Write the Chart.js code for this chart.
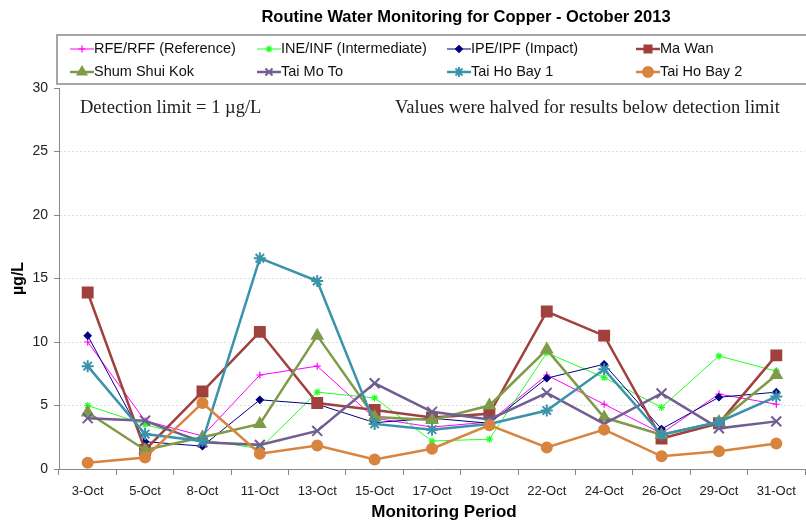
<!DOCTYPE html>
<html>
<head>
<meta charset="utf-8">
<script src="https://cdn.jsdelivr.net/npm/chart.js@4"></script>
<style>
    body { margin: 0; overflow: hidden; background: #fff; }
    #wrap { width: 806px; height: 525px; overflow: hidden; }
</style>
</head>
<body>
<div id="wrap"><canvas id="chart" width="814" height="525"></canvas></div>
<script>
//Dados
const periodos = ['3-Oct', '5-Oct', '8-Oct', '11-Oct', '13-Oct', '15-Oct', '17-Oct', '19-Oct', '22-Oct', '24-Oct', '26-Oct', '29-Oct', '31-Oct'];
const rfe = [10.0, 3.8, 2.6, 7.4, 8.1, 4.0, 3.3, 3.7, 7.4, 5.1, 2.8, 5.9, 5.1];
const ine = [5.0, 3.5, 2.3, 1.6, 6.05, 5.6, 2.2, 2.35, 9.15, 7.2, 4.85, 8.9, 7.7];
const ipe = [10.5, 2.15, 1.8, 5.45, 5.1, 3.65, 4.0, 3.6, 7.15, 8.25, 3.15, 5.65, 6.05];
const maWan = [13.9, 1.5, 6.1, 10.8, 5.2, 4.65, 4.05, 4.35, 12.4, 10.5, 2.4, 3.6, 8.95];
const shumShuiKok = [4.45, 1.5, 2.5, 3.55, 10.5, 4.1, 3.85, 5.0, 9.4, 4.05, 2.7, 3.7, 7.4];
const taiMoTo = [4.0, 3.8, 2.1, 1.9, 3.0, 6.75, 4.5, 3.9, 6.0, 3.55, 5.95, 3.2, 3.75];
const taiHoBay1 = [8.1, 2.75, 2.2, 16.6, 14.8, 3.55, 3.1, 3.55, 4.6, 7.85, 2.7, 3.7, 5.7];
const taiHoBay2 = [0.5, 0.9, 5.2, 1.2, 1.85, 0.75, 1.6, 3.45, 1.7, 3.1, 1.0, 1.4, 2.0];
const yTicks = [0, 5, 10, 15, 20, 25, 30];

const series = [
    { label: 'RFE/RFF (Reference)', data: rfe, color: '#FF00FF', width: 1, style: 'cross', r: 3.5 },
    { label: 'INE/INF (Intermediate)', data: ine, color: '#22FF22', width: 1, style: 'star', r: 3.5 },
    { label: 'IPE/IPF (Impact)', data: ipe, color: '#000080', width: 1, style: 'rectRot', r: 3.5 },
    { label: 'Ma Wan', data: maWan, color: '#A0413E', width: 2.5, style: 'rect', r: 7 },
    { label: 'Shum Shui Kok', data: shumShuiKok, color: '#7F9B48', width: 2.5, style: 'triangle', r: 6 },
    { label: 'Tai Mo To', data: taiMoTo, color: '#705D91', width: 2.5, style: 'crossRot', r: 7 },
    { label: 'Tai Ho Bay 1', data: taiHoBay1, color: '#3B93AA', width: 2.5, style: 'star', r: 6 },
    { label: 'Tai Ho Bay 2', data: taiHoBay2, color: '#D8843F', width: 2.5, style: 'circle', r: 5 }
];

//Título, legenda e textos
const extras = {
    id: 'extras',
    afterDraw(chart) {
        const ctx = chart.ctx;
        ctx.save();
        ctx.fillStyle = '#000';
        ctx.textBaseline = 'middle';
        ctx.textAlign = 'center';
        ctx.font = 'bold 16.5px "Liberation Sans", Arial';
        ctx.fillText('Routine Water Monitoring for Copper - October 2013', 466, 17);
        ctx.font = 'bold 17px "Liberation Sans", Arial';
        ctx.fillText('Monitoring Period', 444, 512);

        ctx.textAlign = 'left';
        ctx.fillStyle = '#222';
        ctx.font = '18.5px "Liberation Serif", serif';
        ctx.fillText('Detection limit = 1 \u00b5g/L', 80, 108);
        ctx.fillText('Values were halved for results below detection limit', 395, 108);

        // caixa da legenda
        ctx.strokeStyle = '#A6A6A6';
        ctx.lineWidth = 2;
        ctx.strokeRect(57, 35, 800, 49);

        const cols = [70, 257, 447, 636];
        const rows = [49, 72];
        ctx.font = '14.5px "Liberation Sans", Arial';
        chart.data.datasets.forEach((ds, i) => {
            const x = cols[i % 4];
            const y = rows[Math.floor(i / 4)];
            ctx.strokeStyle = ds.borderColor;
            ctx.fillStyle = ds.borderColor;
            ctx.lineWidth = ds.borderWidth;
            ctx.beginPath();
            ctx.moveTo(x, y);
            ctx.lineTo(x + 24, y);
            ctx.stroke();
            ctx.lineWidth = ds.pointBorderWidth;
            Chart.helpers.drawPoint(ctx, {
                pointStyle: ds.pointStyle,
                radius: Math.min(ds.pointRadius, 5),
                rotation: 0,
                borderWidth: ds.pointBorderWidth
            }, x + 12, y);
            ctx.fillStyle = '#111';
            ctx.fillText(ds.label, x + 24, y);
        });
        ctx.restore();
    }
};

const chart = document.getElementById('chart').getContext('2d');

new Chart(chart, {
    type: 'line',
    data: {
        labels: periodos,
        datasets: series.map((s, i) => ({
            label: s.label,
            data: s.data,
            borderColor: s.color,
            backgroundColor: s.color,
            borderWidth: s.width,
            pointStyle: s.style,
            pointRadius: s.r,
            pointBorderColor: s.color,
            pointBackgroundColor: s.color,
            pointBorderWidth: s.width > 1 ? 2 : 1.2,
            tension: 0,
            order: series.length - i
        }))
    },
    options: {
        responsive: false,
        animation: false,
        layout: { padding: { top: 88, right: 3.4, left: 0, bottom: 0 } },
        plugins: {
            legend: { display: false },
            tooltip: { enabled: false }
        },
        scales: {
            x: {
                offset: true,
                afterFit: s => { s.height = 56; },
                grid: { offset: true, drawOnChartArea: false, tickLength: 6, tickColor: '#888' },
                border: { color: '#888', width: 1 },
                ticks: { color: '#222', font: { size: 13, family: '"Liberation Sans", Arial' }, padding: 9, maxRotation: 0, autoSkip: false }
            },
            y: {
                min: 0,
                max: 30,
                afterFit: s => { s.width = 59; },
                afterBuildTicks: s => { s.ticks = yTicks.map(v => ({ value: v })); },
                grid: {
                    tickLength: 5,
                    tickColor: '#888',
                    color: c => (c.tick.value === 0 || c.tick.value === 30) ? 'rgba(0,0,0,0)' : '#E0E0E0'
                },
                border: { color: '#888', width: 1, dash: [2, 2] },
                ticks: { color: '#222', font: { size: 14, family: '"Liberation Sans", Arial' }, padding: 6 },
                title: {
                    display: true,
                    text: '\u00b5g/L',
                    color: '#000',
                    font: { size: 16, weight: 'bold', family: '"Liberation Sans", Arial' },
                    padding: { top: 9, bottom: 0 }
                }
            }
        }
    },
    plugins: [extras]
});
</script>
</body>
</html>
